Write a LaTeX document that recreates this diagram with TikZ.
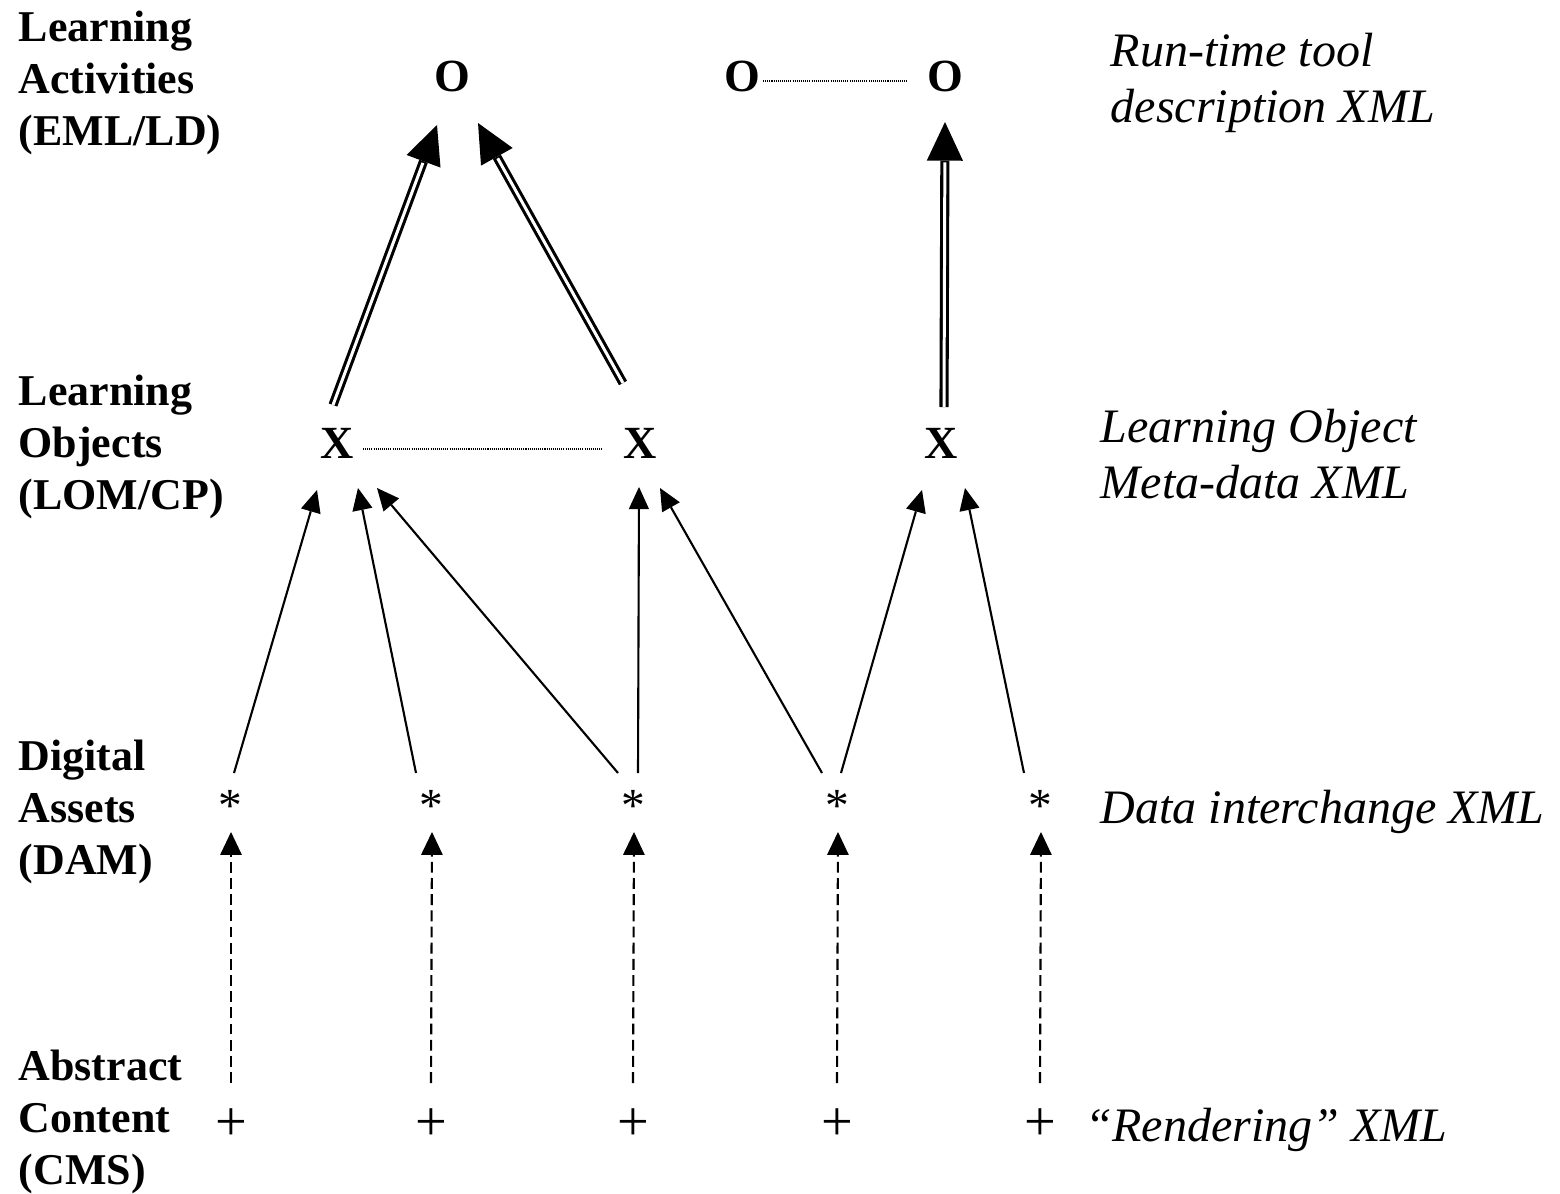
\documentclass[tikz,border=0pt]{standalone}
\usepackage{fontspec}
\setmainfont{Liberation Serif}
\usetikzlibrary{arrows.meta,calc}
\begin{document}
\begin{tikzpicture}[x=0.01cm,y=-0.01cm,
 lbl/.style={anchor=west, align=left, inner sep=0, font=\fontsize{12.5pt}{14.7pt}\selectfont\bfseries},
 rlbl/.style={anchor=west, align=left, inner sep=0, font=\fontsize{13.66pt}{15.9pt}\selectfont\itshape},
 top/.style={inner sep=0, font=\fontsize{13.1pt}{15pt}\selectfont\bfseries},
 ast/.style={inner sep=0, font=\fontsize{13.5pt}{15pt}\selectfont},
 pls/.style={inner sep=0, font=\fontsize{16pt}{18pt}\selectfont},
 sarr/.style={line width=0.6pt, -{Triangle[length=6.3pt,width=5.8pt,line width=0pt]}},
 darr/.style={line width=0.6pt, dash pattern=on 3.1pt off 1.5pt, -{Triangle[length=6.5pt,width=6.2pt,line width=0pt]}},
 dbl/.style={line width=2.6pt, -{Triangle[length=11pt,width=10.3pt,line width=0pt]}, postaction={draw=white, line width=0.85pt, shorten >=11.5pt, -}},
 dots/.style={line width=0.45pt, dash pattern=on 0.3pt off 0.3pt}]
\fill[white] (0,0) rectangle (1560,1193);
\useasboundingbox (0,0) rectangle (1560,1193);

% row nodes
\node[top] (o1) at (452,76) {O};
\node[top] (o2) at (742,76) {O};
\node[top] (o3) at (945,76) {O};
\node[top] (x1) at (337,443) {X};
\node[top] (x2) at (640,443) {X};
\node[top] (x3) at (941,443) {X};
\node[ast] (s1) at (230,806) {*};
\node[ast] (s2) at (431,806) {*};
\node[ast] (s3) at (633,806) {*};
\node[ast] (s4) at (837,806) {*};
\node[ast] (s5) at (1040,806) {*};
\node[pls] (p1) at (231,1125) {+};
\node[pls] (p2) at (431,1125) {+};
\node[pls] (p3) at (633,1125) {+};
\node[pls] (p4) at (837,1125) {+};
\node[pls] (p5) at (1040,1125) {+};

% double arrows
\draw[dbl] ($(x1)+(-4,-38)$) -- ($(o1)+(-15,49)$);
\draw[dbl] ($(x2)+(-17,-60)$) -- ($(o1)+(26,47)$);
\draw[dbl] ($(x3)+(3,-36)$) -- ($(o3)+(0,46)$);

% dotted links
\draw[dots] ($(o2)+(21,5)$) -- ($(o3)+(-38,5)$);
\draw[dots] ($(x1)+(26,6)$) -- ($(x2)+(-37,6)$);

% single arrows
\draw[sarr] ($(s1)+(4,-33)$) -- ($(x1)+(-20,47)$);
\draw[sarr] ($(s2)+(-15,-33)$) -- ($(x1)+(21,45)$);
\draw[sarr] ($(s3)+(-15,-33)$) -- ($(x1)+(40,45)$);
\draw[sarr] ($(s3)+(5,-33)$) -- ($(x2)+(-1,44)$);
\draw[sarr] ($(s4)+(-15,-33)$) -- ($(x2)+(20,45)$);
\draw[sarr] ($(s4)+(4,-33)$) -- ($(x3)+(-19,47)$);
\draw[sarr] ($(s5)+(-16,-33)$) -- ($(x3)+(24,45)$);

% dashed arrows
\draw[darr] ($(p1)+(0,-42)$) -- ($(s1)+(1,26)$);
\draw[darr] ($(p2)+(0,-42)$) -- ($(s2)+(1,26)$);
\draw[darr] ($(p3)+(0,-42)$) -- ($(s3)+(1,26)$);
\draw[darr] ($(p4)+(0,-42)$) -- ($(s4)+(1,26)$);
\draw[darr] ($(p5)+(0,-42)$) -- ($(s5)+(1,26)$);

% left labels
\node[lbl] (la) at (18,83) {Learning\\Activities\\(EML/LD)};
\node[lbl] (lo) at (18,447) {Learning\\Objects\\(LOM/CP)};
\node[lbl] (ld) at (18,812) {Digital\\Assets\\(DAM)};
\node[lbl] (lc) at (18,1122) {Abstract\\Content\\(CMS)};

% right labels
\node[rlbl] (ra) at (1110,83) {Run-time tool\\description XML};
\node[rlbl] (ro) at (1100,454) {Learning Object\\Meta-data XML};
\node[rlbl] (rd) at (1100,812) {Data interchange XML};
\node[rlbl] (rc) at (1085,1130) {“Rendering” XML};
\end{tikzpicture}
\end{document}
